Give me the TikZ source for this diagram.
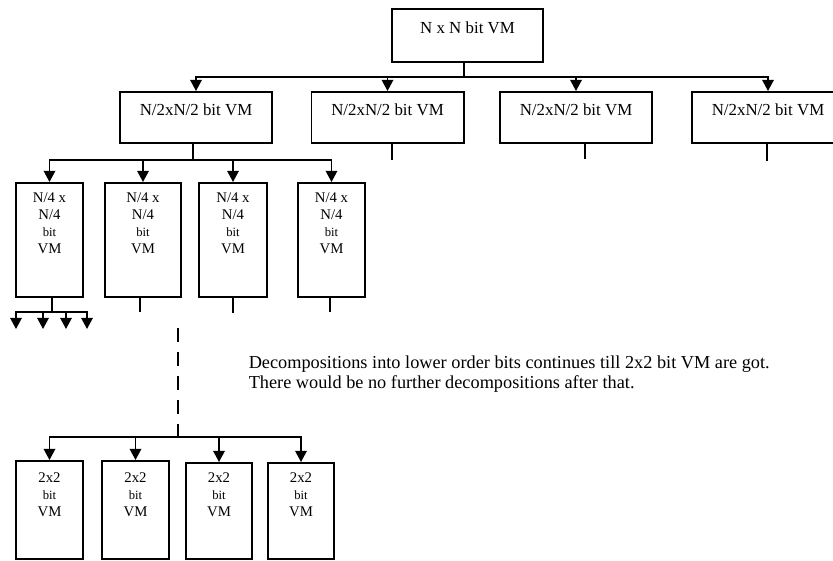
\documentclass[tikz,border=0pt]{standalone}
\usepackage{fontspec}
\setmainfont{Liberation Serif}
\usetikzlibrary{positioning,arrows.meta}

\begin{document}
\begin{tikzpicture}[x=0.025cm,y=-0.025cm,>={Triangle[width=2.9mm,length=2.8mm]},
  line width=1.1pt,
  vmbox/.style={rectangle,draw,line width=1.4pt,inner sep=0pt},
  topbox/.style={vmbox,minimum width=3.775cm,minimum height=1.325cm},
  halfbox/.style={vmbox,minimum width=3.8cm,minimum height=1.275cm},
  quartbox/.style={vmbox,minimum width=1.675cm,minimum height=2.85cm},
  leafbox/.style={vmbox,minimum width=1.675cm,minimum height=2.45cm},
  bigtxt/.style={inner sep=0pt,font=\fontsize{12}{14}\selectfont},
  smalltxt/.style={inner sep=0pt,align=center,font=\fontsize{10.5}{11.9}\selectfont},
  notetxt/.style={inner sep=0pt,align=left,font=\fontsize{13}{14.2}\selectfont}]
  \useasboundingbox (0,0) rectangle (833,560);
  % --- level 1 ---
  \node[topbox] (top) at (467.5,35.5) {};
  \node[bigtxt,below=0.33cm of top.north] (topt) {N x N bit VM};
  \coordinate (j0) at (464,77);
  % --- level 2 ---
  \node[halfbox] (h1) at (196,117.5) {};
  \node[halfbox] (h2) at (387.5,117.5) {};
  \node[halfbox] (h3) at (576,117.5) {};
  \node[halfbox] (h4) at (768,117.5) {};
  \node[bigtxt,below=0.29cm of h1.north] (h1t) {N/2xN/2 bit VM};
  \node[bigtxt,below=0.29cm of h2.north] (h2t) {N/2xN/2 bit VM};
  \node[bigtxt,below=0.29cm of h3.north] (h3t) {N/2xN/2 bit VM};
  \node[bigtxt,below=0.29cm of h4.north] (h4t) {N/2xN/2 bit VM};
  \draw (top.south -| j0) -- (j0);
  \draw[->] (j0) -| (h1.north);
  \draw[->] (j0) -| (h2.north);
  \draw[->] (j0) -| (h3.north);
  \draw[->] (j0) -| (h4.north);
  \coordinate (s2) at (392,160);
  \coordinate (s3) at (585,159);
  \coordinate (s4) at (767,161);
  \draw (h2.south -| s2) -- (s2);
  \draw (h3.south -| s3) -- (s3);
  \draw (h4.south -| s4) -- (s4);
  % --- level 3 ---
  \coordinate (j1) at (193,160);
  \node[quartbox] (q1) at (49.5,240) {};
  \node[quartbox,minimum width=1.9cm] (q2) at (143,240) {};
  \node[quartbox,minimum width=1.7cm] (q3) at (233,240) {};
  \node[quartbox] (q4) at (331.5,240) {};
  \node[smalltxt,below=0.26cm of q1.north] (q1t) {N/4 x\\N/4\\{\fontsize{9}{10}\selectfont bit}\\VM};
  \node[smalltxt,below=0.26cm of q2.north] (q2t) {N/4 x\\N/4\\{\fontsize{9}{10}\selectfont bit}\\VM};
  \node[smalltxt,below=0.26cm of q3.north] (q3t) {N/4 x\\N/4\\{\fontsize{9}{10}\selectfont bit}\\VM};
  \node[smalltxt,below=0.26cm of q4.north] (q4t) {N/4 x\\N/4\\{\fontsize{9}{10}\selectfont bit}\\VM};
  \draw (h1.south -| j1) -- (j1);
  \draw[->] (j1) -| (q1.north);
  \draw[->] (j1) -| (q2.north);
  \draw[->] (j1) -| (q3.north);
  \draw[->] (j1) -| (q4.north);
  % fork under the first quarter block
  \coordinate (j2) at (52,312);
  \coordinate (e1) at (16,329);
  \coordinate (e2) at (43,329);
  \coordinate (e3) at (66,329);
  \coordinate (e4) at (87,329);
  \draw (q1.south -| j2) -- (j2);
  \draw[->] (j2) -| (e1);
  \draw[->] (j2) -| (e2);
  \draw[->] (j2) -| (e3);
  \draw[->] (j2) -| (e4);
  \coordinate (s6) at (140,312);
  \coordinate (s7) at (233,313);
  \coordinate (s8) at (330,312);
  \draw (q2.south -| s6) -- (s6);
  \draw (q3.south -| s7) -- (s7);
  \draw (q4.south -| s8) -- (s8);
  % --- dashed continuation ---
  \coordinate (d0) at (178,328);
  \coordinate (j3) at (178,437);
  \draw[line width=1.5pt,dash pattern=on 9.9pt off 7.1pt] (d0) -- (j3);
  \node[notetxt,anchor=north west] (note) at (248,355.5)
    {Decompositions into lower order bits continues till 2x2 bit VM are got.\\There would be no further decompositions after that.};
  % --- level 4: 2x2 blocks ---
  \node[leafbox] (r1) at (49.5,510) {};
  \node[leafbox] (r2) at (135.5,510) {};
  \node[leafbox,minimum width=1.65cm,minimum height=2.4cm] (r3) at (219,511) {};
  \node[leafbox,minimum width=1.65cm,minimum height=2.4cm] (r4) at (301,511) {};
  \node[smalltxt,below=0.3cm of r1.north] (r1t) {2x2\\{\fontsize{9}{10}\selectfont bit}\\VM};
  \node[smalltxt,below=0.3cm of r2.north] (r2t) {2x2\\{\fontsize{9}{10}\selectfont bit}\\VM};
  \node[smalltxt,below=0.25cm of r3.north] (r3t) {2x2\\{\fontsize{9}{10}\selectfont bit}\\VM};
  \node[smalltxt,below=0.25cm of r4.north] (r4t) {2x2\\{\fontsize{9}{10}\selectfont bit}\\VM};
  \draw[->] (j3) -| (r1.north);
  \draw[->] (j3) -| (r2.north);
  \draw[->] (j3) -| (r3.north);
  \draw[->] (j3) -| (r4.north);
\end{tikzpicture}
\end{document}
